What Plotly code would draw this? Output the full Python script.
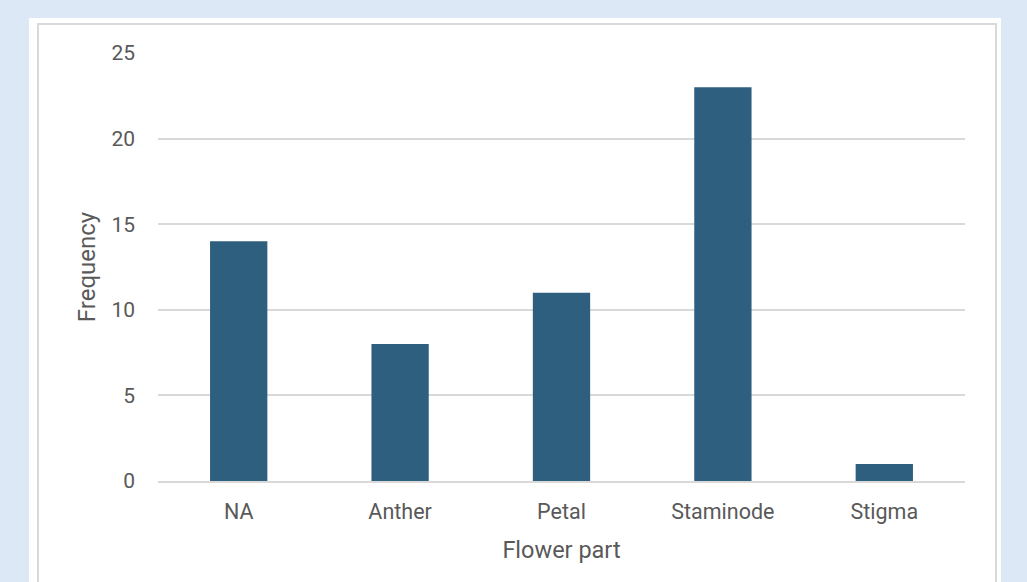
import plotly.graph_objects as go

# flower part counts
parts = ["NA", "Anther", "Petal", "Staminode", "Stigma"]
freq = [14, 8, 11, 23, 1]
y_ticks = [0, 5, 10, 15, 20, 25]

txt = "#595959"
grid = "#d9d9d9"

fig = go.Figure()

fig.add_trace(
    go.Bar(
        x=parts,
        y=freq,
        marker=dict(color="#2e5f7f", line=dict(width=0)),
        width=0.355,
    )
)

# plot area is 158..965 px wide, 53..481 px tall
fig.update_layout(
    width=1027,
    height=582,
    margin=dict(l=158, r=62, t=53, b=101),
    paper_bgcolor="#dce8f5",
    plot_bgcolor="rgba(0,0,0,0)",
    font=dict(family="Roboto, Arial, sans-serif", color=txt, size=21),
    showlegend=False,
    shapes=[
        # white panel
        dict(type="rect", xref="paper", yref="paper",
             x0=-0.1599, x1=1.0446, y0=-0.30, y1=1.0818,
             fillcolor="white", line=dict(width=0), layer="below"),
        # chart border
        dict(type="rect", xref="paper", yref="paper",
             x0=-0.1487, x1=1.0384, y0=-0.28, y1=1.0678,
             fillcolor="white", line=dict(color="#d9d9d9", width=2), layer="below"),
    ],
)

fig.update_xaxes(
    title=dict(text="Flower part", font=dict(size=23.5), standoff=19),
    showgrid=False,
    showline=True,
    linecolor=grid,
    linewidth=1.5,
    ticks="",
    tickfont=dict(size=21.5),
    ticklabelstandoff=10,
)

fig.update_yaxes(
    title=dict(text="Frequency", font=dict(size=24), standoff=8),
    range=[0, 25],
    tickvals=y_ticks,
    showgrid=True,
    gridcolor=grid,
    gridwidth=1.5,
    zeroline=False,
    showline=False,
    ticks="",
    tickfont=dict(size=21),
    ticklabelstandoff=22,
)

# drop the page margin so the figure sits at the window corner
fig.write_html(
    "out.html",
    config={"displayModeBar": False},
    post_script="document.body.style.margin='0';",
)
